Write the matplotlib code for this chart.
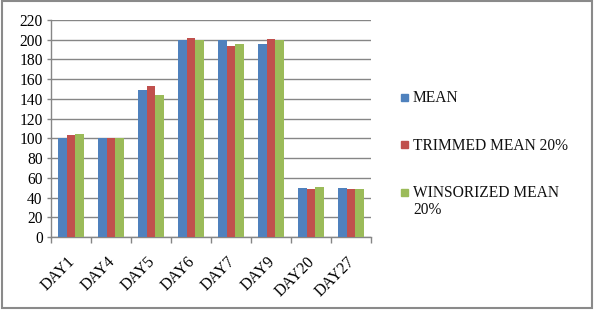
import matplotlib
matplotlib.use("Agg")
import matplotlib.pyplot as plt
import matplotlib.patches as mpatches
import matplotlib.transforms as mtransforms
import numpy as np

plt.rcParams["font.family"] = ["Liberation Serif", "DejaVu Serif"]

days = ["DAY1", "DAY4", "DAY5", "DAY6", "DAY7", "DAY9", "DAY20", "DAY27"]
mean_vals = [100, 100, 149, 200, 200, 196, 50, 50]
trimmed_vals = [103, 100, 153, 202, 194, 201, 49, 49]
winsor_vals = [104, 100, 144, 200, 196, 200, 51, 49]
series_names = ["MEAN", "TRIMMED MEAN 20%", "WINSORIZED MEAN\n20%"]
series_colors = ["#4F81BD", "#C0504D", "#9BBB59"]
y_ticks = list(range(0, 221, 20))

W, H = 599, 326
fig = plt.figure(figsize=(W / 100, H / 100), dpi=100)
fig.patch.set_facecolor("white")
ax = fig.add_axes([51 / W, 1 - 237 / H, 320 / W, 217 / H])

x = np.arange(len(days))
bw = 0.21
for i, (vals, col) in enumerate(zip([mean_vals, trimmed_vals, winsor_vals], series_colors)):
    ax.bar(x + (i - 1) * bw, vals, width=bw, color=col, zorder=3)

ax.set_xlim(-0.5, len(days) - 0.5)
ax.set_ylim(0, 220)
ax.set_yticks(y_ticks)
ax.yaxis.grid(True, color="#868686", linewidth=1.0, zorder=0)
ax.set_axisbelow(True)

ax.set_xticks(x)
ax.set_xticks(np.arange(-0.5, len(days), 1), minor=True)
ax.tick_params(axis="x", which="major", length=0, pad=12)
ax.tick_params(axis="x", which="minor", length=4, color="#868686", width=1)
ax.tick_params(axis="y", length=3, color="#868686", width=1, labelsize=11.2, pad=3)
ax.set_xticklabels(days, rotation=45, ha="right", va="top",
                   rotation_mode="anchor", fontsize=11.5)
shift = mtransforms.ScaledTranslation(-4 / 100, 0, fig.dpi_scale_trans)
for lbl in ax.get_xticklabels():
    lbl.set_transform(lbl.get_transform() + shift)

for s in ["top", "right"]:
    ax.spines[s].set_visible(False)
for s in ["left", "bottom"]:
    ax.spines[s].set_color("#868686")
    ax.spines[s].set_linewidth(1.0)

# legend, drawn by hand in figure pixels
leg_y = [97, 145, 192]
for name, col, yy in zip(series_names, series_colors, leg_y):
    fig.add_artist(mpatches.Rectangle((401 / W, 1 - (yy + 3.5) / H), 7 / W, 7 / H,
                                      transform=fig.transFigure, color=col))
    fig.text(413 / W, 1 - (yy - 7) / H, name, ha="left", va="top",
             fontsize=11.2, linespacing=1.1, color="#111111")

# outer chart frame
fig.add_artist(mpatches.Rectangle((2 / W, 1 - 308 / H), 590 / W, 307 / H,
                                  transform=fig.transFigure, fill=False,
                                  edgecolor="#8a8a8a", linewidth=1.5))

fig.savefig("out.png", dpi=100)
